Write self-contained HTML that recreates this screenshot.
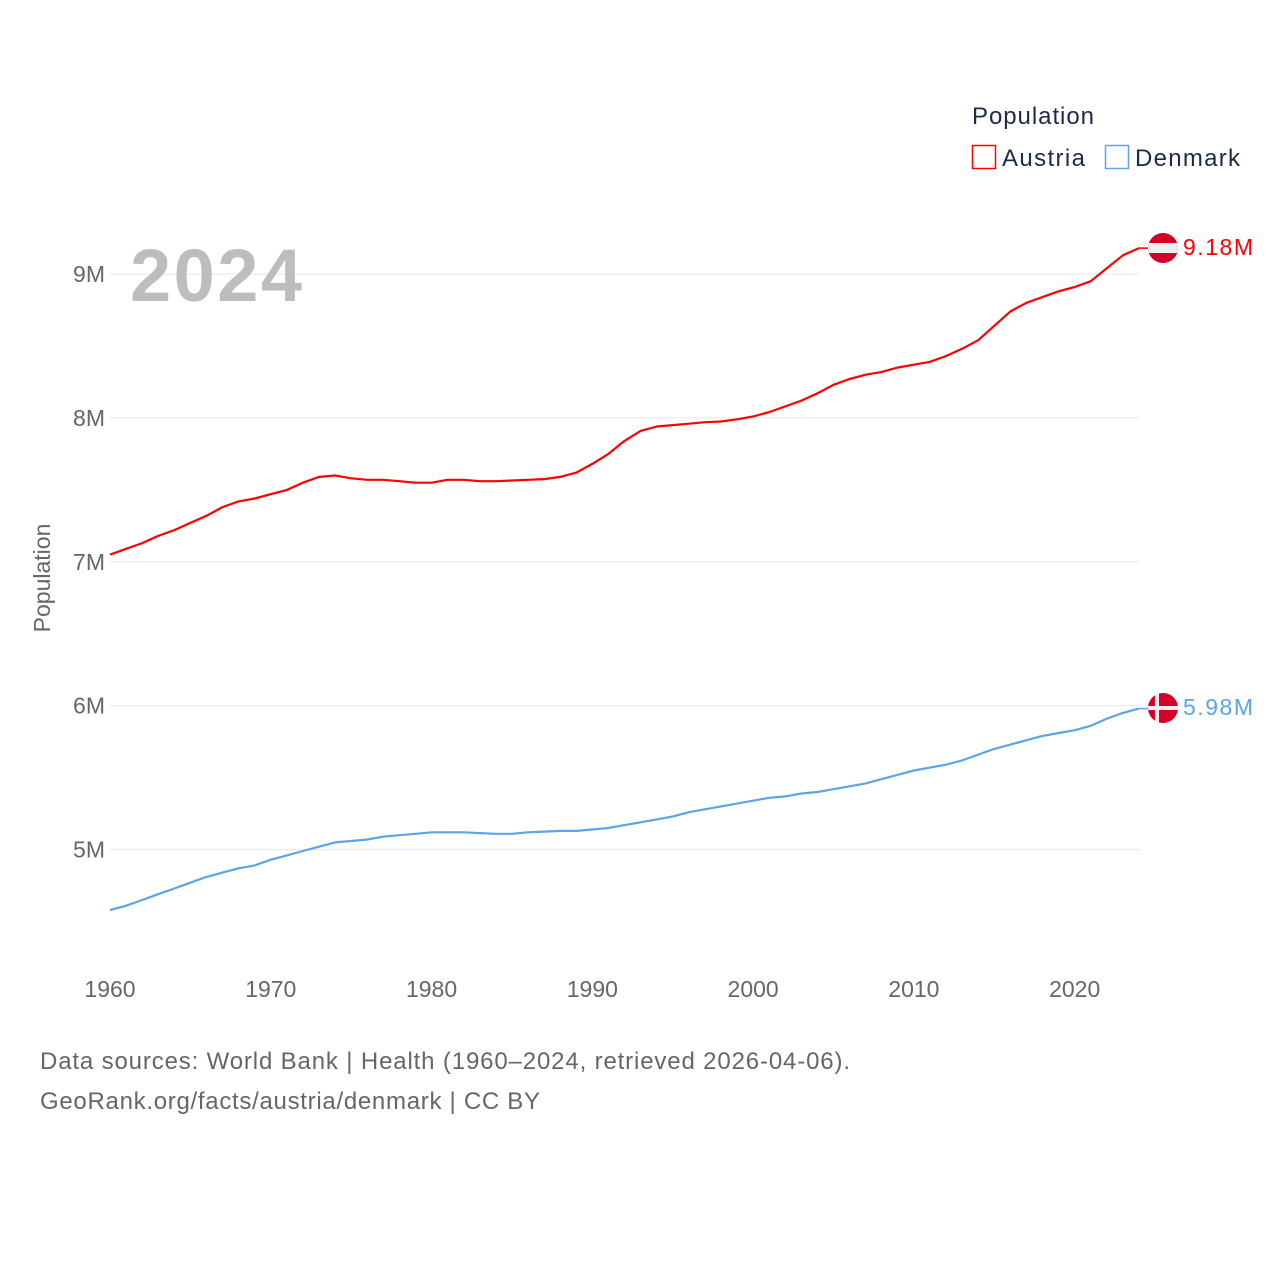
<!DOCTYPE html>
<html><head><meta charset="utf-8">
<style>
html,body{margin:0;padding:0;background:#fff;}
body{width:1280px;height:1280px;overflow:hidden;font-family:"Liberation Sans",sans-serif;}
svg text{font-family:"Liberation Sans",sans-serif;}
</style></head>
<body>
<svg id="chart" width="1280" height="1280" xmlns="http://www.w3.org/2000/svg">
<defs>
<clipPath id="cA"><circle cx="1163" cy="248" r="15"/></clipPath>
<clipPath id="cD"><circle cx="1163" cy="708" r="15"/></clipPath>
</defs>
<g id="grid"></g>
<g id="yt"></g>
<g id="xt"></g>
<text x="130" y="301" font-size="74" font-weight="bold" fill="#bdbdbd" textLength="172">2024</text>
<text transform="translate(50,578) rotate(-90)" text-anchor="middle" font-size="23" fill="#666">Population</text>
<g id="series"></g>
<g clip-path="url(#cA)">
<rect x="1148" y="233" width="30" height="30" fill="#d4002a"/>
<rect x="1148" y="243" width="30" height="10" fill="#eeeeee"/>
</g>
<text x="1183" y="255" font-size="23" fill="#ff0000" textLength="70">9.18M</text>
<g clip-path="url(#cD)">
<rect x="1148" y="693" width="30" height="30" fill="#d4002a"/>
<rect x="1155" y="693" width="4" height="30" fill="#eeeeee"/>
<rect x="1148" y="706" width="30" height="4" fill="#eeeeee"/>
</g>
<text x="1183" y="715" font-size="23" fill="#5ba4ea" textLength="70">5.98M</text>
<text x="972" y="124" font-size="24" fill="#1c2b4a" textLength="122">Population</text>
<rect x="972.5" y="145.5" width="23" height="23" fill="none" stroke="#ff0000" stroke-width="1.5"/>
<text x="1002" y="166" font-size="24" fill="#1c2b4a" textLength="83">Austria</text>
<rect x="1105.5" y="145.5" width="23" height="23" fill="none" stroke="#5ba4ea" stroke-width="1.5"/>
<text x="1135" y="166" font-size="24" fill="#1c2b4a" textLength="105">Denmark</text>
<text x="40" y="1069" font-size="24" fill="#666" textLength="810">Data sources: World Bank | Health (1960–2024, retrieved 2026-04-06).</text>
<text x="40" y="1109" font-size="24" fill="#666" textLength="500">GeoRank.org/facts/austria/denmark | CC BY</text>
</svg>
<script>
const years = [];
for (let y = 1960; y <= 2024; y++) years.push(y);
const austria = [7.05,7.09,7.13,7.18,7.22,7.27,7.32,7.38,7.42,7.44,7.47,7.50,7.55,7.59,7.60,7.58,7.57,7.57,7.56,7.55,7.55,7.57,7.57,7.56,7.56,7.565,7.57,7.575,7.59,7.62,7.68,7.75,7.84,7.91,7.94,7.95,7.96,7.97,7.975,7.99,8.01,8.04,8.08,8.12,8.17,8.23,8.27,8.30,8.32,8.35,8.37,8.39,8.43,8.48,8.54,8.64,8.74,8.80,8.84,8.88,8.91,8.95,9.04,9.13,9.18];
const denmark = [4.58,4.61,4.65,4.69,4.73,4.77,4.81,4.84,4.87,4.89,4.93,4.96,4.99,5.02,5.05,5.06,5.07,5.09,5.10,5.11,5.12,5.12,5.12,5.115,5.11,5.11,5.12,5.125,5.13,5.13,5.14,5.15,5.17,5.19,5.21,5.23,5.26,5.28,5.30,5.32,5.34,5.36,5.37,5.39,5.40,5.42,5.44,5.46,5.49,5.52,5.55,5.57,5.59,5.62,5.66,5.70,5.73,5.76,5.79,5.81,5.83,5.86,5.91,5.95,5.98];
const yTicks = [5,6,7,8,9];
const yTickLabels = ["5M","6M","7M","8M","9M"];
const xTicks = [1960,1970,1980,1990,2000,2010,2020];

const X0 = 110, X1 = 1139;
const xs = y => X0 + (y - 1960) * (X1 - X0) / 64;
const ys = v => 274 + (9 - v) * 143.9;
const NS = "http://www.w3.org/2000/svg";
function mk(tag, attrs, parent, txt){
  const e = document.createElementNS(NS, tag);
  for (const k in attrs) e.setAttribute(k, attrs[k]);
  if (txt !== undefined) e.textContent = txt;
  parent.appendChild(e);
  return e;
}
const grid = document.getElementById('grid'), yt = document.getElementById('yt'), xt = document.getElementById('xt'), ser = document.getElementById('series');
yTicks.forEach((v,i)=>{
  const l = mk('line',{x1:X0,x2:X1,y1:ys(v),y2:ys(v),stroke:'#e6e6e6','stroke-width':1},grid);
  
  
  const t = mk('text',{x:105,y:ys(v)+8,'text-anchor':'end','font-size':23,fill:'#666'},yt,yTickLabels[i]);
  
  
});
xTicks.forEach(y=>{
  const t = mk('text',{x:xs(y),y:997,'text-anchor':'middle','font-size':23,fill:'#666'},xt,String(y));
  
  
});
function line(vals,color,name){
  const d = vals.map((v,i)=>(i?'L':'M')+xs(years[i]).toFixed(1)+','+ys(v).toFixed(1)).join(' ');
  const p = mk('path',{d:d,fill:'none',stroke:color,'stroke-width':2.2,'stroke-linejoin':'round'},ser);
  
  
  const last = vals[vals.length-1];
  const c = mk('line',{x1:xs(years[years.length-1]),x2:1148,y1:ys(last),y2:ys(last),stroke:color,'stroke-width':1.5},ser);
  
  
}
line(austria,'#ff0000','austria-line');
line(denmark,'#5ba4ea','denmark-line');
</script>
</body></html>
